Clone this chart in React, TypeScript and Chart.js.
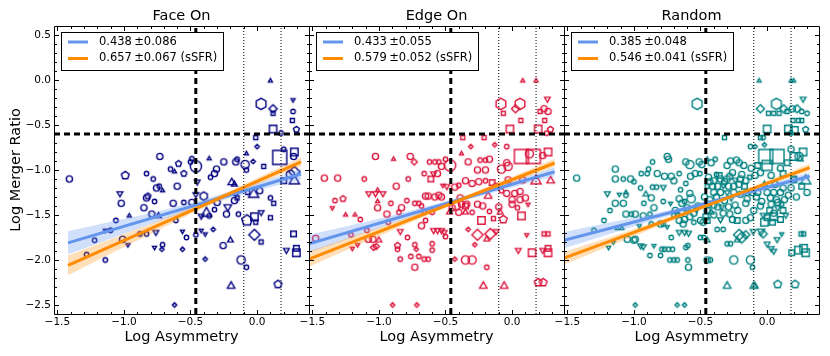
import React, { useEffect, useRef } from "react";
import { Chart, registerables } from "chart.js";

Chart.register(...registerables);

type Pt = [number, number, string, number];

const PANEL_TITLES = ["Face On", "Edge On", "Random"];
const PANEL_COLORS = ["#000080", "#DC143C", "#008080"];
const X_LABEL = "Log Asymmetry";
const Y_LABEL = "Log Merger Ratio";
const X_RANGE = [-1.525, 0.39];
const Y_RANGE = [-2.6, 0.6];
const X_MAJOR_TICKS = [-1.5, -1.0, -0.5, 0.0];
const Y_MAJOR_TICKS = [0.5, 0.0, -0.5, -1.0, -1.5, -2.0, -2.5];

const SLOPES = ["0.438", "0.433", "0.385"];
const SLOPE_ERRS = ["0.086", "0.055", "0.048"];
const SSFR_SLOPES = ["0.657", "0.579", "0.546"];
const SSFR_ERRS = ["0.067", "0.052", "0.041"];

const H_CUT = -0.6;
const V_CUT = -0.46;
const DOTTED_CUTS = [-0.1, 0.18];

const FIT_X = [[-1.42, 0.33], [-1.525, 0.32], [-1.525, 0.32]];
const FIT_Y = [[-1.81, -1.045], [-1.82, -1.02], [-1.78, -1.07]];
const SSFR_FIT_Y = [[-2.06, -0.91], [-1.99, -0.922], [-1.98, -0.973]];

const BAND_X = [
  [-1.42, -1.1, -0.8, -0.5, -0.2, 0.1, 0.33],
  [-1.525, -1.2, -0.9, -0.6, -0.3, 0.0, 0.32],
  [-1.525, -1.2, -0.9, -0.6, -0.3, 0.0, 0.32],
];
const FIT_LO = [
  [-1.94, -1.765, -1.6, -1.45, -1.31, -1.19, -1.105],
  [-1.92, -1.75, -1.595, -1.45, -1.315, -1.195, -1.07],
  [-1.87, -1.72, -1.58, -1.45, -1.33, -1.225, -1.115],
];
const FIT_HI = [
  [-1.68, -1.575, -1.48, -1.37, -1.24, -1.1, -0.985],
  [-1.72, -1.61, -1.505, -1.39, -1.265, -1.125, -0.97],
  [-1.69, -1.59, -1.5, -1.4, -1.29, -1.165, -1.025],
];
const SSFR_LO = [
  [-2.17, -1.93, -1.71, -1.49, -1.29, -1.1, -0.96],
  [-2.075, -1.86, -1.67, -1.48, -1.305, -1.14, -0.965],
  [-2.05, -1.855, -1.675, -1.5, -1.33, -1.17, -1.01],
];
const SSFR_HI = [
  [-1.95, -1.77, -1.6, -1.42, -1.23, -1.02, -0.86],
  [-1.905, -1.74, -1.59, -1.425, -1.255, -1.075, -0.875],
  [-1.91, -1.755, -1.605, -1.45, -1.29, -1.12, -0.93],
];

// [log asymmetry, log merger ratio, marker class, size class]
const FACE_ON_POINTS: Pt[] = [
  [0.10,-0.01,'^',1],[0.03,-0.265,'h',4],[0.12,-0.32,'d',3],[0.12,-0.37,'s',1],[0.27,-0.22,'v',1],
  [0.27,-0.35,'o',1],[0.265,-0.45,'s',1],[0.295,-0.55,'p',2],[0.12,-0.545,'s',3],[0.18,-0.59,'o',1],
  [-0.01,-0.64,'s',1],[0.0,-0.74,'d',1],[-0.08,-0.82,'^',1],[-0.03,-0.905,'d',1],[0.17,-0.86,'s',5],
  [0.28,-0.80,'s',3],[0.275,-0.85,'o',2],[0.2,-0.77,'o',1],[0.05,-0.96,'s',1],[-0.09,-0.94,'o',3],
  [-0.08,-1.0,'o',1],[-0.73,-0.85,'o',2],[-0.59,-0.93,'p',2],[-0.50,-0.91,'o',1],[-0.46,-0.96,'o',4],
  [-0.49,-0.875,'o',1],[-0.36,-0.875,'^',1],[-0.25,-0.91,'o',2],[-0.15,-0.88,'o',1],[-0.16,-0.91,'o',2],
  [-0.65,-0.99,'o',1],[-0.55,-1.04,'p',2],[-0.305,-0.99,'o',2],[-0.32,-1.04,'o',2],[-0.83,-1.04,'o',1],
  [-0.78,-1.10,'o',1],[-0.99,-1.06,'p',3],[-1.41,-1.10,'o',2],[-0.35,-1.08,'o',1],[-0.19,-1.14,'^',3],
  [-0.45,-1.13,'v',2],[-1.03,-1.26,'v',2],[-1.02,-1.37,'o',2],[-0.82,-1.29,'p',2],[-0.85,-1.42,'o',2],
  [-0.77,-1.35,'o',1],[-0.735,-1.18,'o',1],[-0.71,-1.23,'^',1],[-0.79,-1.49,'o',2],[-0.74,-1.51,'^',2],
  [-0.96,-1.51,'^',1],[-1.06,-1.56,'o',1],[-1.10,-1.67,'o',1],[-1.14,-1.67,'v',1],[-1.22,-1.78,'o',1],
  [-1.01,-1.77,'o',2],[-0.97,-1.83,'v',1],[-1.14,-2.0,'o',1],[-1.28,-1.94,'o',1],[-0.88,-1.71,'o',1],
  [-0.83,-1.71,'o',1],[-0.76,-1.69,'v',2],[-0.71,-1.83,'o',1],[-0.77,-1.86,'v',1],[-0.715,-1.88,'d',1],
  [-0.61,-1.56,'o',1],[-0.63,-1.37,'o',2],[-0.55,-1.36,'o',1],[-0.49,-1.36,'o',2],[-0.56,-1.68,'v',1],
  [-0.53,-1.75,'o',1],[-0.56,-1.88,'d',1],[-0.62,-2.50,'d',1],[-0.46,-1.72,'o',1],[-0.42,-1.67,'v',1],
  [-0.39,-1.71,'v',1],[-0.39,-1.99,'d',1],[-0.33,-1.66,'d',1],[-0.40,-1.29,'h',3],[-0.46,-1.27,'v',2],
  [-0.38,-1.48,'^',4],[-0.42,-1.51,'v',2],[-0.36,-1.51,'o',1],[-0.32,-1.44,'o',1],[-0.30,-1.36,'o',2],
  [-0.22,-1.41,'v',3],[-0.23,-1.49,'o',2],[-0.17,-1.34,'o',2],[-0.15,-1.31,'s',1],[-0.14,-1.49,'o',1],
  [-0.255,-1.84,'o',2],[-0.20,-1.78,'^',2],[-0.12,-2.0,'o',3],[-0.08,-2.08,'o',1],[-0.195,-2.29,'^',3],
  [-0.02,-1.72,'d',4],[-0.076,-1.56,'p',4],[-0.02,-1.52,'s',3],[-0.01,-1.58,'s',1],[0.03,-1.47,'v',2],
  [0.03,-1.80,'s',1],[0.10,-1.53,'s',1],[0.157,-2.27,'p',3],[0.274,-1.71,'s',2],[0.22,-1.89,'v',2],
  [0.295,-1.87,'s',2],[0.295,-1.92,'s',3],[0.10,-1.31,'o',1],[0.125,-1.37,'s',1],[0.02,-1.23,'o',2],
  [-0.026,-1.27,'^',4],[-0.07,-1.25,'s',1],[0.28,-1.12,'^',4],[0.2,-1.12,'s',2],[-0.16,-1.26,'s',1],
  [-0.17,-1.16,'^',2],[0.28,-1.02,'d',4],[0.25,-1.05,'o',3],[-0.60,-1.18,'o',2],[-0.62,-1.02,'^',1],
  [-0.755,-1.20,'o',2],[-0.83,-1.31,'o',2],
];

const EDGE_ON_POINTS: Pt[] = [
  [0.08,-0.01,'^',1],[0.18,-0.01,'^',1],[-0.084,-0.265,'h',4],[-0.066,-0.37,'s',1],[0.06,-0.265,'h',4],
  [0.026,-0.32,'d',3],[0.066,-0.45,'s',1],[0.265,-0.21,'v',2],[0.24,-0.32,'o',2],[0.21,-0.35,'s',1],
  [0.27,-0.35,'o',2],[0.245,-0.45,'s',1],[-0.016,-0.545,'s',3],[0.196,-0.545,'s',3],[0.288,-0.55,'p',2],
  [0.26,-0.59,'o',1],[-0.37,-0.64,'s',1],[-0.21,-0.64,'s',1],[-0.13,-0.72,'d',1],[-0.04,-0.74,'o',1],
  [-0.31,-0.74,'d',1],[-0.38,-0.82,'^',1],[-1.026,-0.85,'o',2],[-0.89,-0.88,'^',1],[-0.765,-0.85,'o',2],
  [-0.735,-0.91,'d',2],[-0.62,-0.91,'o',1],[-0.58,-0.91,'o',1],[-0.55,-0.91,'o',1],[-0.50,-0.88,'o',1],
  [-0.465,-0.95,'o',4],[-0.53,-0.96,'o',2],[-0.33,-0.91,'o',2],[-0.24,-0.89,'o',1],[-0.20,-0.89,'o',1],
  [-0.17,-0.88,'o',2],[-0.26,-1.0,'o',2],[-0.20,-1.0,'o',2],[0.07,-0.85,'s',5],[0.16,-0.85,'s',5],
  [0.13,-0.82,'o',3],[0.27,-0.80,'s',3],[0.23,-0.84,'o',2],[-0.08,-0.99,'o',3],[-0.03,-0.96,'o',3],
  [-0.04,-0.92,'o',2],[-1.41,-1.09,'o',2],[-1.31,-1.09,'o',2],[-1.11,-1.10,'o',1],[-0.87,-1.18,'o',2],
  [-0.78,-1.10,'o',1],[-0.66,-1.04,'o',1],[-0.59,-1.04,'v',2],[-0.56,-1.04,'o',2],[-0.61,-1.10,'s',2],
  [-0.52,-1.17,'v',1],[-0.40,-1.17,'o',1],[-1.076,-1.26,'v',2],[-1.026,-1.26,'v',2],[-0.97,-1.26,'v',2],
  [-1.01,-1.225,'^',1],[-1.33,-1.34,'o',1],[-1.35,-1.42,'v',1],[-1.27,-1.32,'p',2],[-1.01,-1.35,'^',1],
  [-1.01,-1.42,'o',2],[-0.91,-1.37,'o',1],[-0.83,-1.42,'o',2],[-0.79,-1.34,'o',1],[-0.73,-1.37,'o',1],
  [-0.70,-1.37,'o',1],[-0.68,-1.40,'o',1],[-0.65,-1.29,'o',2],[-0.63,-1.29,'o',2],[-0.58,-1.30,'o',2],
  [-0.55,-1.28,'o',2],[-0.53,-1.30,'o',2],[-0.49,-1.18,'v',2],[-0.43,-1.19,'o',2],[-0.39,-1.31,'o',2],
  [-0.26,-1.38,'o',2],[-0.18,-1.29,'^',3],[-1.25,-1.50,'^',1],[-1.18,-1.50,'^',1],[-1.14,-1.55,'o',1],
  [-0.94,-1.49,'o',2],[-0.85,-1.47,'o',1],[-0.93,-1.58,'o',1],[-1.475,-1.76,'o',2],[-1.21,-1.72,'o',1],
  [-1.20,-1.87,'v',1],[-1.16,-1.83,'v',1],[-1.09,-1.67,'o',1],[-1.08,-1.77,'o',2],[-1.045,-1.77,'o',2],
  [-1.04,-1.86,'d',2],[-1.02,-1.85,'d',2],[-1.0,-1.78,'^',2],[-0.86,-1.84,'p',2],[-0.86,-1.88,'o',1],
  [-0.84,-1.99,'o',1],[-0.84,-1.68,'v',2],[-0.785,-1.75,'o',1],[-0.73,-1.83,'o',1],[-0.72,-1.88,'d',1],
  [-0.76,-1.96,'o',1],[-0.70,-1.96,'o',1],[-0.66,-1.99,'o',1],[-0.63,-1.99,'o',1],[-0.73,-2.08,'o',2],
  [-0.60,-1.89,'o',1],[-0.60,-1.82,'o',1],[-0.68,-1.62,'o',2],[-0.65,-1.56,'o',1],[-0.59,-1.67,'v',2],
  [-0.56,-1.67,'v',2],[-0.53,-1.67,'v',2],[-0.51,-1.69,'v',2],[-0.50,-1.74,'o',1],[-0.43,-1.99,'d',1],
  [-0.35,-2.0,'o',3],[-0.30,-2.0,'o',3],[-0.33,-1.66,'d',1],[-0.28,-1.83,'d',1],[-0.26,-1.72,'d',4],
  [-0.163,-1.71,'d',4],[-0.19,-1.77,'^',2],[-0.12,-1.68,'v',2],[-0.19,-2.08,'o',1],[-0.216,-2.29,'^',3],
  [-0.06,-2.29,'^',3],[0.046,-1.89,'v',2],[0.11,-1.72,'v',1],[0.15,-1.92,'s',3],[0.23,-1.89,'v',2],
  [0.27,-1.87,'s',2],[0.27,-1.92,'s',3],[0.24,-1.71,'s',1],[0.27,-1.71,'s',1],[0.196,-2.25,'p',3],
  [0.233,-2.25,'p',3],[-0.897,-2.50,'d',1],[-0.715,-2.50,'d',1],[-0.066,-1.55,'p',3],[-0.14,-1.54,'s',1],
  [-0.23,-1.56,'s',3],[-0.09,-1.47,'^',2],[0.07,-1.51,'s',3],[0.12,-1.38,'v',1],[0.06,-1.33,'o',2],
  [0.0,-1.33,'o',2],[-0.04,-1.26,'o',2],[0.02,-1.26,'o',2],[0.06,-1.24,'o',2],[-0.03,-1.11,'o',2],
  [0.08,-1.11,'o',2],[0.18,-1.12,'^',4],[0.29,-1.12,'^',3],[-0.08,-1.23,'o',1],[-0.35,-1.40,'s',2],
  [-0.40,-1.47,'o',2],[-0.35,-1.47,'^',2],[-0.30,-1.47,'o',1],[-0.38,-1.38,'o',2],[-0.34,-1.38,'o',2],
  [-0.22,-1.40,'o',2],[-0.17,-1.46,'o',1],[-0.35,-1.12,'o',2],[-0.30,-1.15,'o',2],[-0.25,-1.13,'o',2],
  [-0.20,-1.12,'o',1],[-0.15,-1.14,'s',2],[-0.42,-1.40,'o',3],[-0.45,-1.42,'o',2],[-0.47,-1.47,'^',2],
  [-0.10,-1.41,'o',2],[0.0,-1.38,'o',2],[0.04,-1.42,'o',1],[0.10,-1.31,'o',2],[-0.12,-1.18,'o',2],
  [-0.60,-1.47,'o',1],[-0.66,-1.46,'o',1],
];

const RANDOM_POINTS: Pt[] = [
  [-0.06,-0.01,'^',1],[0.18,-0.01,'^',1],[0.20,-0.01,'^',1],[-0.525,-0.265,'h',4],[-0.05,-0.32,'d',3],
  [0.01,-0.37,'s',1],[0.05,-0.37,'s',1],[0.09,-0.37,'s',1],[0.07,-0.265,'h',4],[0.125,-0.32,'d',3],
  [0.15,-0.35,'s',1],[0.19,-0.32,'o',2],[0.225,-0.32,'d',3],[0.26,-0.35,'o',1],[0.30,-0.37,'o',1],
  [0.27,-0.21,'v',2],[0.195,-0.45,'s',1],[0.235,-0.45,'s',1],[0.26,-0.45,'s',1],[0.0,-0.545,'s',3],
  [0.16,-0.545,'s',3],[0.205,-0.56,'s',3],[0.29,-0.55,'p',2],[0.18,-0.59,'o',1],[-0.32,-0.64,'s',1],
  [-0.05,-0.64,'s',1],[-0.03,-0.64,'o',1],[-0.125,-0.74,'o',1],[-0.09,-0.74,'d',1],[-0.02,-0.72,'d',1],
  [-0.01,-0.85,'s',5],[0.075,-0.85,'s',5],[0.0,-0.95,'s',4],[0.18,-0.77,'o',2],[0.20,-0.85,'s',3],
  [0.27,-0.80,'s',3],[0.24,-0.85,'o',3],[0.25,-0.88,'^',2],[-0.75,-0.85,'o',2],[-0.74,-0.88,'o',2],
  [-0.86,-0.91,'o',1],[-0.61,-0.91,'o',2],[-0.58,-0.94,'o',3],[-0.51,-0.91,'o',2],[-0.49,-0.94,'o',2],
  [-0.45,-0.88,'^',1],[-0.39,-0.88,'o',1],[-0.42,-0.92,'o',2],[-0.275,-0.90,'o',2],[-0.23,-0.89,'o',2],
  [-0.21,-0.92,'o',2],[-0.175,-0.95,'o',2],[-1.14,-0.99,'o',2],[-0.89,-0.99,'o',1],[-0.825,-1.04,'o',2],
  [-0.77,-1.07,'o',2],[-0.72,-1.07,'o',2],[-0.945,-1.04,'o',1],[-0.90,-1.04,'o',1],[-1.14,-1.10,'o',2],
  [-1.08,-1.10,'o',1],[-1.025,-1.10,'o',2],[-1.43,-1.09,'o',2],[-0.86,-1.19,'o',1],[-0.83,-1.19,'o',1],
  [-0.78,-1.19,'v',2],[-0.66,-1.04,'o',1],[-0.575,-1.07,'o',2],[-0.54,-1.04,'o',2],[-0.505,-1.04,'o',1],
  [-0.45,-1.18,'s',1],[-0.41,-1.18,'o',2],[-0.37,-1.18,'o',2],[-0.33,-1.17,'v',2],[-0.29,-1.18,'o',2],
  [-0.25,-1.18,'o',2],[-0.21,-1.16,'o',2],[-0.17,-1.18,'s',2],[-0.35,-1.10,'o',2],[-0.30,-1.10,'o',2],
  [-0.26,-1.03,'o',2],[-0.20,-1.10,'o',2],[-0.09,-1.06,'o',2],[-0.05,-1.03,'o',2],[0.03,-1.06,'o',2],
  [0.12,-1.04,'s',2],[0.29,-1.12,'^',4],[0.20,-1.10,'s',2],[-1.2,-1.26,'v',2],[-1.11,-1.27,'v',1],
  [-1.06,-1.25,'^',1],[-1.06,-1.28,'o',1],[-1.14,-1.37,'o',2],[-1.08,-1.37,'o',2],[-0.91,-1.27,'^',2],
  [-0.87,-1.31,'o',2],[-0.85,-1.42,'o',2],[-0.925,-1.37,'o',1],[-0.78,-1.35,'o',1],[-0.725,-1.37,'v',1],
  [-0.66,-1.32,'o',2],[-0.64,-1.37,'o',2],[-0.58,-1.26,'o',2],[-0.57,-1.32,'o',3],[-0.61,-1.15,'o',1],
  [-0.40,-1.25,'o',2],[-0.35,-1.25,'o',2],[-0.30,-1.25,'v',2],[-0.25,-1.25,'o',2],[-0.20,-1.27,'o',2],
  [-0.15,-1.25,'o',2],[-0.44,-1.38,'o',2],[-0.40,-1.39,'o',2],[-0.37,-1.41,'o',2],[-0.34,-1.41,'v',2],
  [-0.29,-1.41,'o',2],[-0.24,-1.39,'o',2],[-0.15,-1.32,'o',2],[-0.16,-1.37,'o',2],[0.0,-1.25,'o',2],
  [0.05,-1.25,'o',2],[0.10,-1.25,'o',2],[0.025,-1.31,'o',2],[0.07,-1.33,'o',2],[-0.07,-1.25,'o',2],
  [-0.11,-1.25,'o',2],[0.11,-1.38,'s',1],[-1.225,-1.56,'o',1],[-1.30,-1.67,'o',1],[-1.06,-1.49,'o',2],
  [-1.02,-1.49,'o',1],[-0.99,-1.49,'o',2],[-1.125,-1.65,'^',1],[-1.09,-1.65,'^',1],[-0.93,-1.51,'o',2],
  [-0.88,-1.49,'o',1],[-0.80,-1.60,'o',2],[-0.78,-1.60,'o',1],[-1.05,-1.77,'o',2],[-1.0,-1.78,'o',2],
  [-0.99,-1.77,'o',2],[-1.155,-1.80,'v',1],[-1.19,-1.86,'v',1],[-0.95,-1.84,'v',2],[-0.93,-1.85,'v',2],
  [-0.85,-1.84,'v',1],[-0.79,-1.88,'o',1],[-0.77,-1.88,'o',1],[-0.74,-1.88,'o',1],[-0.71,-1.88,'o',1],
  [-0.88,-1.95,'o',1],[-0.80,-1.95,'o',1],[-0.73,-2.0,'o',1],[-0.70,-2.0,'o',1],[-0.66,-1.69,'v',2],
  [-0.62,-1.69,'v',2],[-0.59,-1.70,'v',2],[-0.66,-1.56,'o',2],[-0.62,-1.55,'o',2],[-0.63,-1.60,'o',2],
  [-0.675,-2.0,'o',1],[-0.595,-2.0,'o',1],[-0.59,-2.08,'o',2],[-0.61,-1.86,'o',1],[-0.595,-1.84,'o',1],
  [-0.50,-1.75,'o',1],[-0.475,-1.75,'o',1],[-0.45,-1.78,'^',2],[-0.45,-2.0,'o',2],[-0.425,-2.0,'o',1],
  [-0.50,-1.56,'o',2],[-0.48,-1.58,'o',2],[-0.45,-1.56,'s',2],[-0.375,-1.66,'o',1],[-0.33,-1.66,'o',1],
  [-0.30,-1.82,'o',1],[-0.275,-1.82,'o',1],[-0.225,-1.78,'^',2],[-0.21,-1.72,'d',4],[-0.19,-1.75,'d',4],
  [-0.16,-1.72,'d',3],[-0.25,-2.0,'o',3],[-0.125,-2.0,'o',3],[-0.11,-2.08,'o',1],[-0.105,-1.68,'v',2],
  [-0.045,-1.68,'v',3],[-0.03,-1.71,'d',3],[0.0,-1.82,'v',2],[0.03,-1.87,'v',2],[0.05,-1.90,'v',2],
  [0.075,-1.77,'v',2],[0.11,-1.71,'v',1],[0.0,-1.53,'s',2],[0.05,-1.52,'s',3],[-0.02,-1.58,'s',3],
  [0.04,-1.58,'s',2],[-0.125,-1.53,'o',2],[-0.16,-1.56,'o',2],[-0.225,-1.56,'s',2],[0.185,-1.92,'s',2],
  [0.235,-1.89,'s',3],[0.275,-1.87,'s',3],[0.29,-1.92,'s',3],[0.255,-1.71,'s',1],[0.275,-1.71,'s',1],
  [-0.30,-2.29,'^',3],[-0.10,-2.29,'^',3],[-0.09,-2.29,'^',2],[0.08,-2.27,'p',3],[0.21,-2.27,'p',3],
  [-0.99,-2.50,'d',1],[-0.675,-2.50,'d',1],[-0.62,-2.50,'d',1],[0.20,-1.11,'s',2],[-0.45,-1.45,'o',2],
  [-0.40,-1.50,'o',2],[-0.35,-1.55,'v',2],[-0.28,-1.49,'o',2],[-0.22,-1.45,'o',2],[-0.10,-1.45,'o',2],
  [-0.05,-1.40,'o',2],[0.02,-1.45,'s',2],[0.08,-1.42,'v',2],[-0.55,-1.48,'o',2],[-0.52,-1.40,'o',2],
  [-0.47,-1.30,'o',2],[-0.43,-1.13,'o',2],[-0.38,-1.05,'o',1],[0.12,-1.20,'o',2],[0.16,-1.28,'o',2],
  [-0.75,-1.63,'v',1],[-0.70,-1.50,'o',1],[-0.02,-1.16,'^',2],[0.06,-1.16,'o',2],
  [-0.44,-1.08,'o',2],[-0.40,-1.12,'o',2],[-0.36,-1.06,'s',2],[-0.32,-1.13,'o',2],[-0.28,-1.07,'o',2],
  [-0.24,-1.11,'v',2],[-0.19,-1.05,'o',2],[-0.16,-1.12,'o',2],[-0.13,-1.08,'s',1],[-0.69,-1.45,'o',2],
  [-0.67,-1.50,'o',1],[-0.64,-1.47,'o',2],[-0.60,-1.42,'o',2],[-0.58,-1.52,'o',2],[-0.55,-1.58,'o',1],
  [-0.53,-1.44,'v',2],[-0.62,-1.35,'o',1],[-0.08,-1.30,'o',2],[-0.04,-1.35,'o',2],[0.03,-1.38,'o',2],
  [0.08,-1.36,'o',2],[0.13,-1.33,'o',2],[0.12,-1.45,'s',2],[0.05,-1.48,'o',2],[-0.03,-1.50,'v',2],
  [0.10,-1.55,'s',2],[0.14,-1.50,'v',2],[-0.43,-1.33,'o',2],[-0.38,-1.30,'o',2],[-0.32,-1.34,'o',2],
  [-0.27,-1.31,'v',2],[-0.42,-1.47,'^',2],[-0.33,-1.48,'o',2],[-0.26,-1.55,'o',2],[-0.46,-1.52,'s',2],
  [-1.0,-1.13,'o',1],[-0.95,-1.20,'o',1],[-0.70,-1.12,'o',2],[-0.65,-1.22,'o',1],[-1.18,-1.45,'o',1],
  [-0.96,-1.62,'v',1],[-0.87,-1.60,'o',1],[-0.72,-1.75,'o',1],[-0.30,-0.95,'o',2],[-0.12,-0.98,'o',2],
  [-0.07,-0.95,'s',2],[0.10,-0.98,'o',2],[0.15,-0.92,'s',2],[0.18,-1.20,'o',2],[0.22,-1.30,'o',2],
  [0.26,-1.18,'s',2],[0.30,-1.25,'o',2],
];

const PANEL_POINTS = [FACE_ON_POINTS, EDGE_ON_POINTS, RANDOM_POINTS];

const FIT_COLOR = "#6495ED";
const SSFR_COLOR = "#FF8C00";
const FIT_BAND = "rgba(100,149,237,0.3)";
const SSFR_BAND = "rgba(255,140,0,0.28)";
const FONT = "DejaVu Sans";
const SIZE_RADIUS = [0, 2.2, 3.1, 4.1, 5.6, 7.8];
const X_IDS = ["x", "x1", "x2"];

const markerCache = new Map<string, HTMLCanvasElement>();
function markerCanvas(shape: string, sizeClass: number, color: string): HTMLCanvasElement {
  const key = shape + sizeClass + color;
  const hit = markerCache.get(key);
  if (hit) return hit;
  const r = SIZE_RADIUS[sizeClass];
  const dim = Math.ceil(2 * r + 4);
  const c = document.createElement("canvas");
  c.width = dim;
  c.height = dim;
  const g = c.getContext("2d")!;
  g.translate(dim / 2, dim / 2);
  g.beginPath();
  const poly = (n: number, start: number, rad: number) => {
    for (let k = 0; k < n; k++) {
      const a = start + (k * 2 * Math.PI) / n;
      const px = rad * Math.cos(a);
      const py = rad * Math.sin(a);
      if (k === 0) g.moveTo(px, py);
      else g.lineTo(px, py);
    }
    g.closePath();
  };
  switch (shape) {
    case "o":
      g.arc(0, 0, r, 0, Math.PI * 2);
      break;
    case "s":
      g.rect(-r * 0.9, -r * 0.9, r * 1.8, r * 1.8);
      break;
    case "d":
      poly(4, -Math.PI / 2, r);
      break;
    case "^":
      poly(3, -Math.PI / 2, r * 1.05);
      break;
    case "v":
      poly(3, Math.PI / 2, r * 1.05);
      break;
    case "p":
      poly(5, -Math.PI / 2, r);
      break;
    case "h":
      poly(6, -Math.PI / 2, r);
      break;
  }
  g.lineWidth = 1.4;
  g.strokeStyle = color;
  g.stroke();
  markerCache.set(key, c);
  return c;
}

function fmtTick(v: number): string {
  if (Math.abs(v) < 1e-9) return "0.0";
  return (v < 0 ? "\u2212" : "") + Math.abs(v).toFixed(1);
}

const decorPlugin = {
  id: "panelDecor",
  afterDatasetsDraw(chart: any) {
    const { ctx, chartArea } = chart;
    const yS = chart.scales.y;
    const top = Math.round(chartArea.top);
    const bottom = Math.round(chartArea.bottom);
    ctx.save();
    ctx.strokeStyle = "#000";
    ctx.lineWidth = 1;
    X_IDS.forEach((id, i) => {
      const xs = chart.scales[id];
      const L = Math.round(xs.left);
      const R = Math.round(xs.right);
      ctx.beginPath();
      ctx.moveTo(L + 0.5, top + 0.5);
      ctx.lineTo(R + 0.5, top + 0.5);
      ctx.lineTo(R + 0.5, bottom + 0.5);
      ctx.lineTo(L + 0.5, bottom + 0.5);
      ctx.closePath();
      ctx.stroke();
      ctx.beginPath();
      for (let k = -15; k <= 3; k++) {
        const v = k / 10;
        const major = k % 5 === 0;
        const len = major ? 4 : 2;
        const px = Math.round(xs.getPixelForValue(v)) + 0.5;
        ctx.moveTo(px, bottom);
        ctx.lineTo(px, bottom - len);
        ctx.moveTo(px, top + 1);
        ctx.lineTo(px, top + 1 + len);
      }
      for (let k = -25; k <= 5; k++) {
        const v = k / 10;
        const major = k % 5 === 0;
        const len = major ? 4 : 2;
        const py = Math.round(yS.getPixelForValue(v)) + 0.5;
        ctx.moveTo(L + 1, py);
        ctx.lineTo(L + 1 + len, py);
        ctx.moveTo(R, py);
        ctx.lineTo(R - len, py);
      }
      ctx.stroke();
      ctx.fillStyle = "#000";
      ctx.font = `14.5px "${FONT}"`;
      ctx.textAlign = "center";
      ctx.textBaseline = "middle";
      ctx.fillText(PANEL_TITLES[i], (xs.left + xs.right) / 2, 16.7);
    });
    ctx.restore();
  },
  afterDraw(chart: any) {
    const { ctx, chartArea } = chart;
    ctx.save();
    X_IDS.forEach((id, i) => {
      const xs = chart.scales[id];
      const L = Math.round(xs.left) + 7;
      const T = Math.round(chartArea.top) + 6;
      const W = 162;
      const H = 38;
      ctx.fillStyle = "#fff";
      ctx.fillRect(L, T, W, H);
      ctx.strokeStyle = "#000";
      ctx.lineWidth = 1;
      ctx.strokeRect(L + 0.5, T + 0.5, W, H);
      ctx.lineWidth = 3;
      ctx.strokeStyle = FIT_COLOR;
      ctx.beginPath();
      ctx.moveTo(L + 7, T + 10);
      ctx.lineTo(L + 27, T + 10);
      ctx.stroke();
      ctx.strokeStyle = SSFR_COLOR;
      ctx.beginPath();
      ctx.moveTo(L + 7, T + 26.5);
      ctx.lineTo(L + 27, T + 26.5);
      ctx.stroke();
      ctx.fillStyle = "#000";
      ctx.font = `11.5px "${FONT}"`;
      ctx.textAlign = "left";
      ctx.textBaseline = "middle";
      ctx.fillText(`${SLOPES[i]}\u2009\u00B1${SLOPE_ERRS[i]}`, L + 38, T + 10);
      ctx.fillText(`${SSFR_SLOPES[i]}\u2009\u00B1${SSFR_ERRS[i]} (sSFR)`, L + 38, T + 26.5);
    });
    ctx.restore();
  },
};

export default function App() {
  const ref = useRef<HTMLCanvasElement>(null);
  useEffect(() => {
    const canvas = ref.current;
    if (!canvas) return;
    Chart.defaults.font.family = FONT;
    Chart.defaults.color = "#000";

    const datasets: any[] = [];
    const lineBase = { type: "line", pointRadius: 0, tension: 0, yAxisID: "y", fill: false };

    X_IDS.forEach((xid) => {
      datasets.push({
        ...lineBase, xAxisID: xid,
        data: [{ x: X_RANGE[0], y: H_CUT }, { x: X_RANGE[1], y: H_CUT }],
        borderColor: "#000", borderWidth: 3, borderDash: [6, 4],
      });
      datasets.push({
        ...lineBase, xAxisID: xid,
        data: [{ x: V_CUT, y: Y_RANGE[0] }, { x: V_CUT, y: Y_RANGE[1] }],
        borderColor: "#000", borderWidth: 3, borderDash: [6, 4],
      });
      DOTTED_CUTS.forEach((dx) => {
        datasets.push({
          ...lineBase, xAxisID: xid,
          data: [{ x: dx, y: Y_RANGE[0] }, { x: dx, y: Y_RANGE[1] }],
          borderColor: "#000", borderWidth: 1, borderDash: [1, 2],
        });
      });
    });

    X_IDS.forEach((xid, i) => {
      datasets.push({
        ...lineBase, xAxisID: xid,
        data: FIT_X[i].map((x, k) => ({ x, y: SSFR_FIT_Y[i][k] })),
        borderColor: SSFR_COLOR, borderWidth: 3,
      });
      datasets.push({
        ...lineBase, xAxisID: xid,
        data: FIT_X[i].map((x, k) => ({ x, y: FIT_Y[i][k] })),
        borderColor: FIT_COLOR, borderWidth: 3,
      });
    });

    X_IDS.forEach((xid, i) => {
      datasets.push({
        ...lineBase, xAxisID: xid,
        data: BAND_X[i].map((x, k) => ({ x, y: SSFR_HI[i][k] })),
        borderColor: "transparent", borderWidth: 0,
      });
      datasets.push({
        ...lineBase, xAxisID: xid,
        data: BAND_X[i].map((x, k) => ({ x, y: SSFR_LO[i][k] })),
        borderColor: "transparent", borderWidth: 0, fill: "-1", backgroundColor: SSFR_BAND,
      });
      datasets.push({
        ...lineBase, xAxisID: xid,
        data: BAND_X[i].map((x, k) => ({ x, y: FIT_HI[i][k] })),
        borderColor: "transparent", borderWidth: 0,
      });
      datasets.push({
        ...lineBase, xAxisID: xid,
        data: BAND_X[i].map((x, k) => ({ x, y: FIT_LO[i][k] })),
        borderColor: "transparent", borderWidth: 0, fill: "-1", backgroundColor: FIT_BAND,
      });
    });

    X_IDS.forEach((xid, i) => {
      const pts = PANEL_POINTS[i];
      datasets.push({
        type: "scatter", xAxisID: xid, yAxisID: "y",
        data: pts.map((p) => ({ x: p[0], y: p[1] })),
        pointStyle: pts.map((p) => markerCanvas(p[2], p[3], PANEL_COLORS[i])),
        pointRadius: pts.map((p) => SIZE_RADIUS[p[3]]),
        showLine: false,
      });
    });

    const scales: any = {
      y: {
        type: "linear", position: "left", min: Y_RANGE[0], max: Y_RANGE[1],
        afterBuildTicks: (s: any) => { s.ticks = Y_MAJOR_TICKS.map((v) => ({ value: v })); },
        afterFit: (s: any) => { s.width = 54; },
        grid: { display: false, drawTicks: false },
        border: { display: false },
        ticks: { autoSkip: false, padding: 3, color: "#000", font: { size: 10.5, family: FONT }, callback: (v: any) => fmtTick(Number(v)) },
        title: { display: true, text: Y_LABEL, color: "#000", font: { size: 14.5, family: FONT }, padding: { top: 8, bottom: 0 } },
      },
    };
    X_IDS.forEach((xid) => {
      scales[xid] = {
        type: "linear", axis: "x", position: "bottom", stack: "panels", stackWeight: 1,
        min: X_RANGE[0], max: X_RANGE[1],
        afterBuildTicks: (s: any) => { s.ticks = X_MAJOR_TICKS.map((v) => ({ value: v })); },
        afterFit: (s: any) => { s.height = 42; },
        grid: { display: false, drawTicks: false },
        border: { display: false },
        ticks: { autoSkip: false, maxRotation: 0, padding: 2, color: "#000", font: { size: 10.5, family: FONT }, callback: (v: any) => fmtTick(Number(v)) },
        title: { display: true, text: X_LABEL, color: "#000", font: { size: 14.5, family: FONT }, padding: { top: 0, bottom: 10.5 } },
      };
    });

    const chart = new Chart(canvas, {
      type: "scatter",
      data: { datasets },
      options: {
        responsive: false,
        animation: false,
        events: [],
        layout: { padding: { left: 0, right: 11, top: 26, bottom: 0 } },
        plugins: { legend: { display: false }, tooltip: { enabled: false }, title: { display: false } },
        scales,
      },
      plugins: [decorPlugin],
    } as any);
    return () => chart.destroy();
  }, []);

  return (
    <div style={{ position: "absolute", left: 0, top: 0, width: 830, height: 356, background: "#fff" }}>
      <canvas ref={ref} width={830} height={356} style={{ display: "block" }} />
    </div>
  );
}
